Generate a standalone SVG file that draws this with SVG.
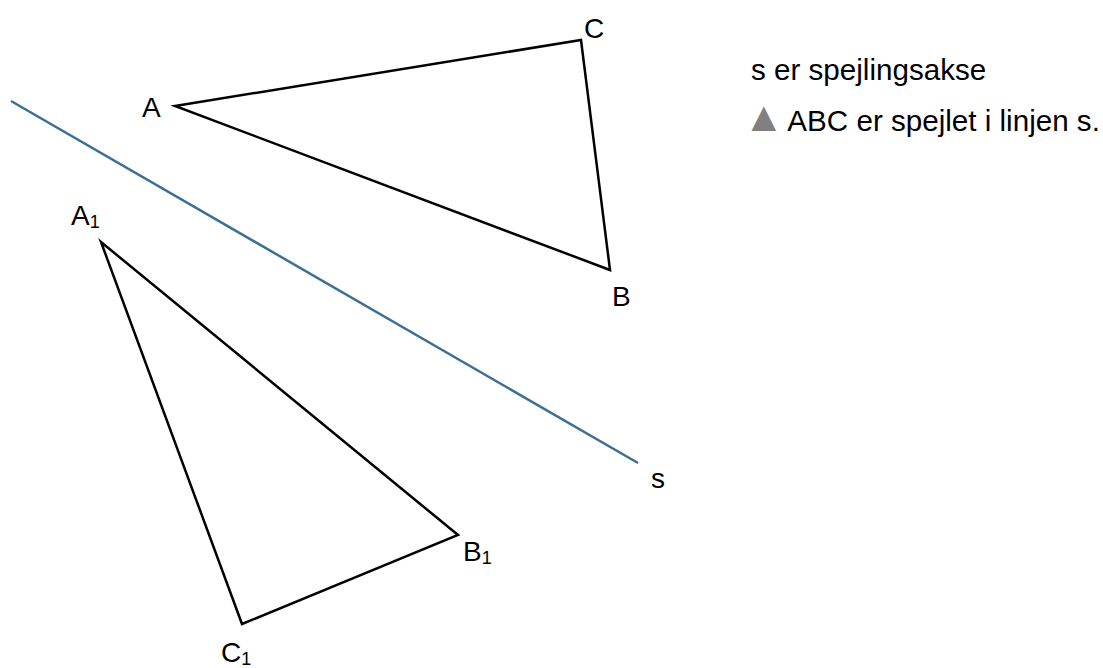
<svg xmlns="http://www.w3.org/2000/svg" width="1103" height="668" viewBox="0 0 1103 668">
<style>
.tri{fill:none;stroke:#000;stroke-width:2.5;stroke-linejoin:miter}
.lbl{font-family:"Liberation Sans",Arial,sans-serif;font-size:28px;fill:#000}
.sub{font-size:18px}
.note{font-family:"Liberation Sans",Arial,sans-serif;font-size:29.6px;fill:#000}
</style>
<rect width="1103" height="668" fill="#fff"/>
<g id="axis">
<line x1="11" y1="101" x2="638" y2="463" stroke="#3d6f95" stroke-width="2.5"/>
<text class="lbl" x="651" y="488">s</text>
</g>
<g id="triangle-ABC">
<polygon class="tri" points="175,106 581,40 610,270"/>
<text class="lbl" x="142" y="117">A</text>
<text class="lbl" x="584" y="38">C</text>
<text class="lbl" x="612" y="306">B</text>
</g>
<g id="triangle-A1B1C1">
<polygon class="tri" points="101,242 458,535 242,624"/>
<text class="lbl" x="71" y="225">A<tspan class="sub" dy="3">1</tspan></text>
<text class="lbl" x="463" y="561">B<tspan class="sub" dy="3">1</tspan></text>
<text class="lbl" x="221" y="662">C<tspan class="sub" dy="3">1</tspan></text>
</g>
<g id="notes">
<text class="note" x="751" y="80">s er spejlingsakse</text>
<text class="note" x="743" y="131"><tspan fill="#808080" font-size="42px">▲</tspan><tspan font-size="10px"> </tspan>ABC er spejlet i linjen s.</text>
</g>
</svg>
